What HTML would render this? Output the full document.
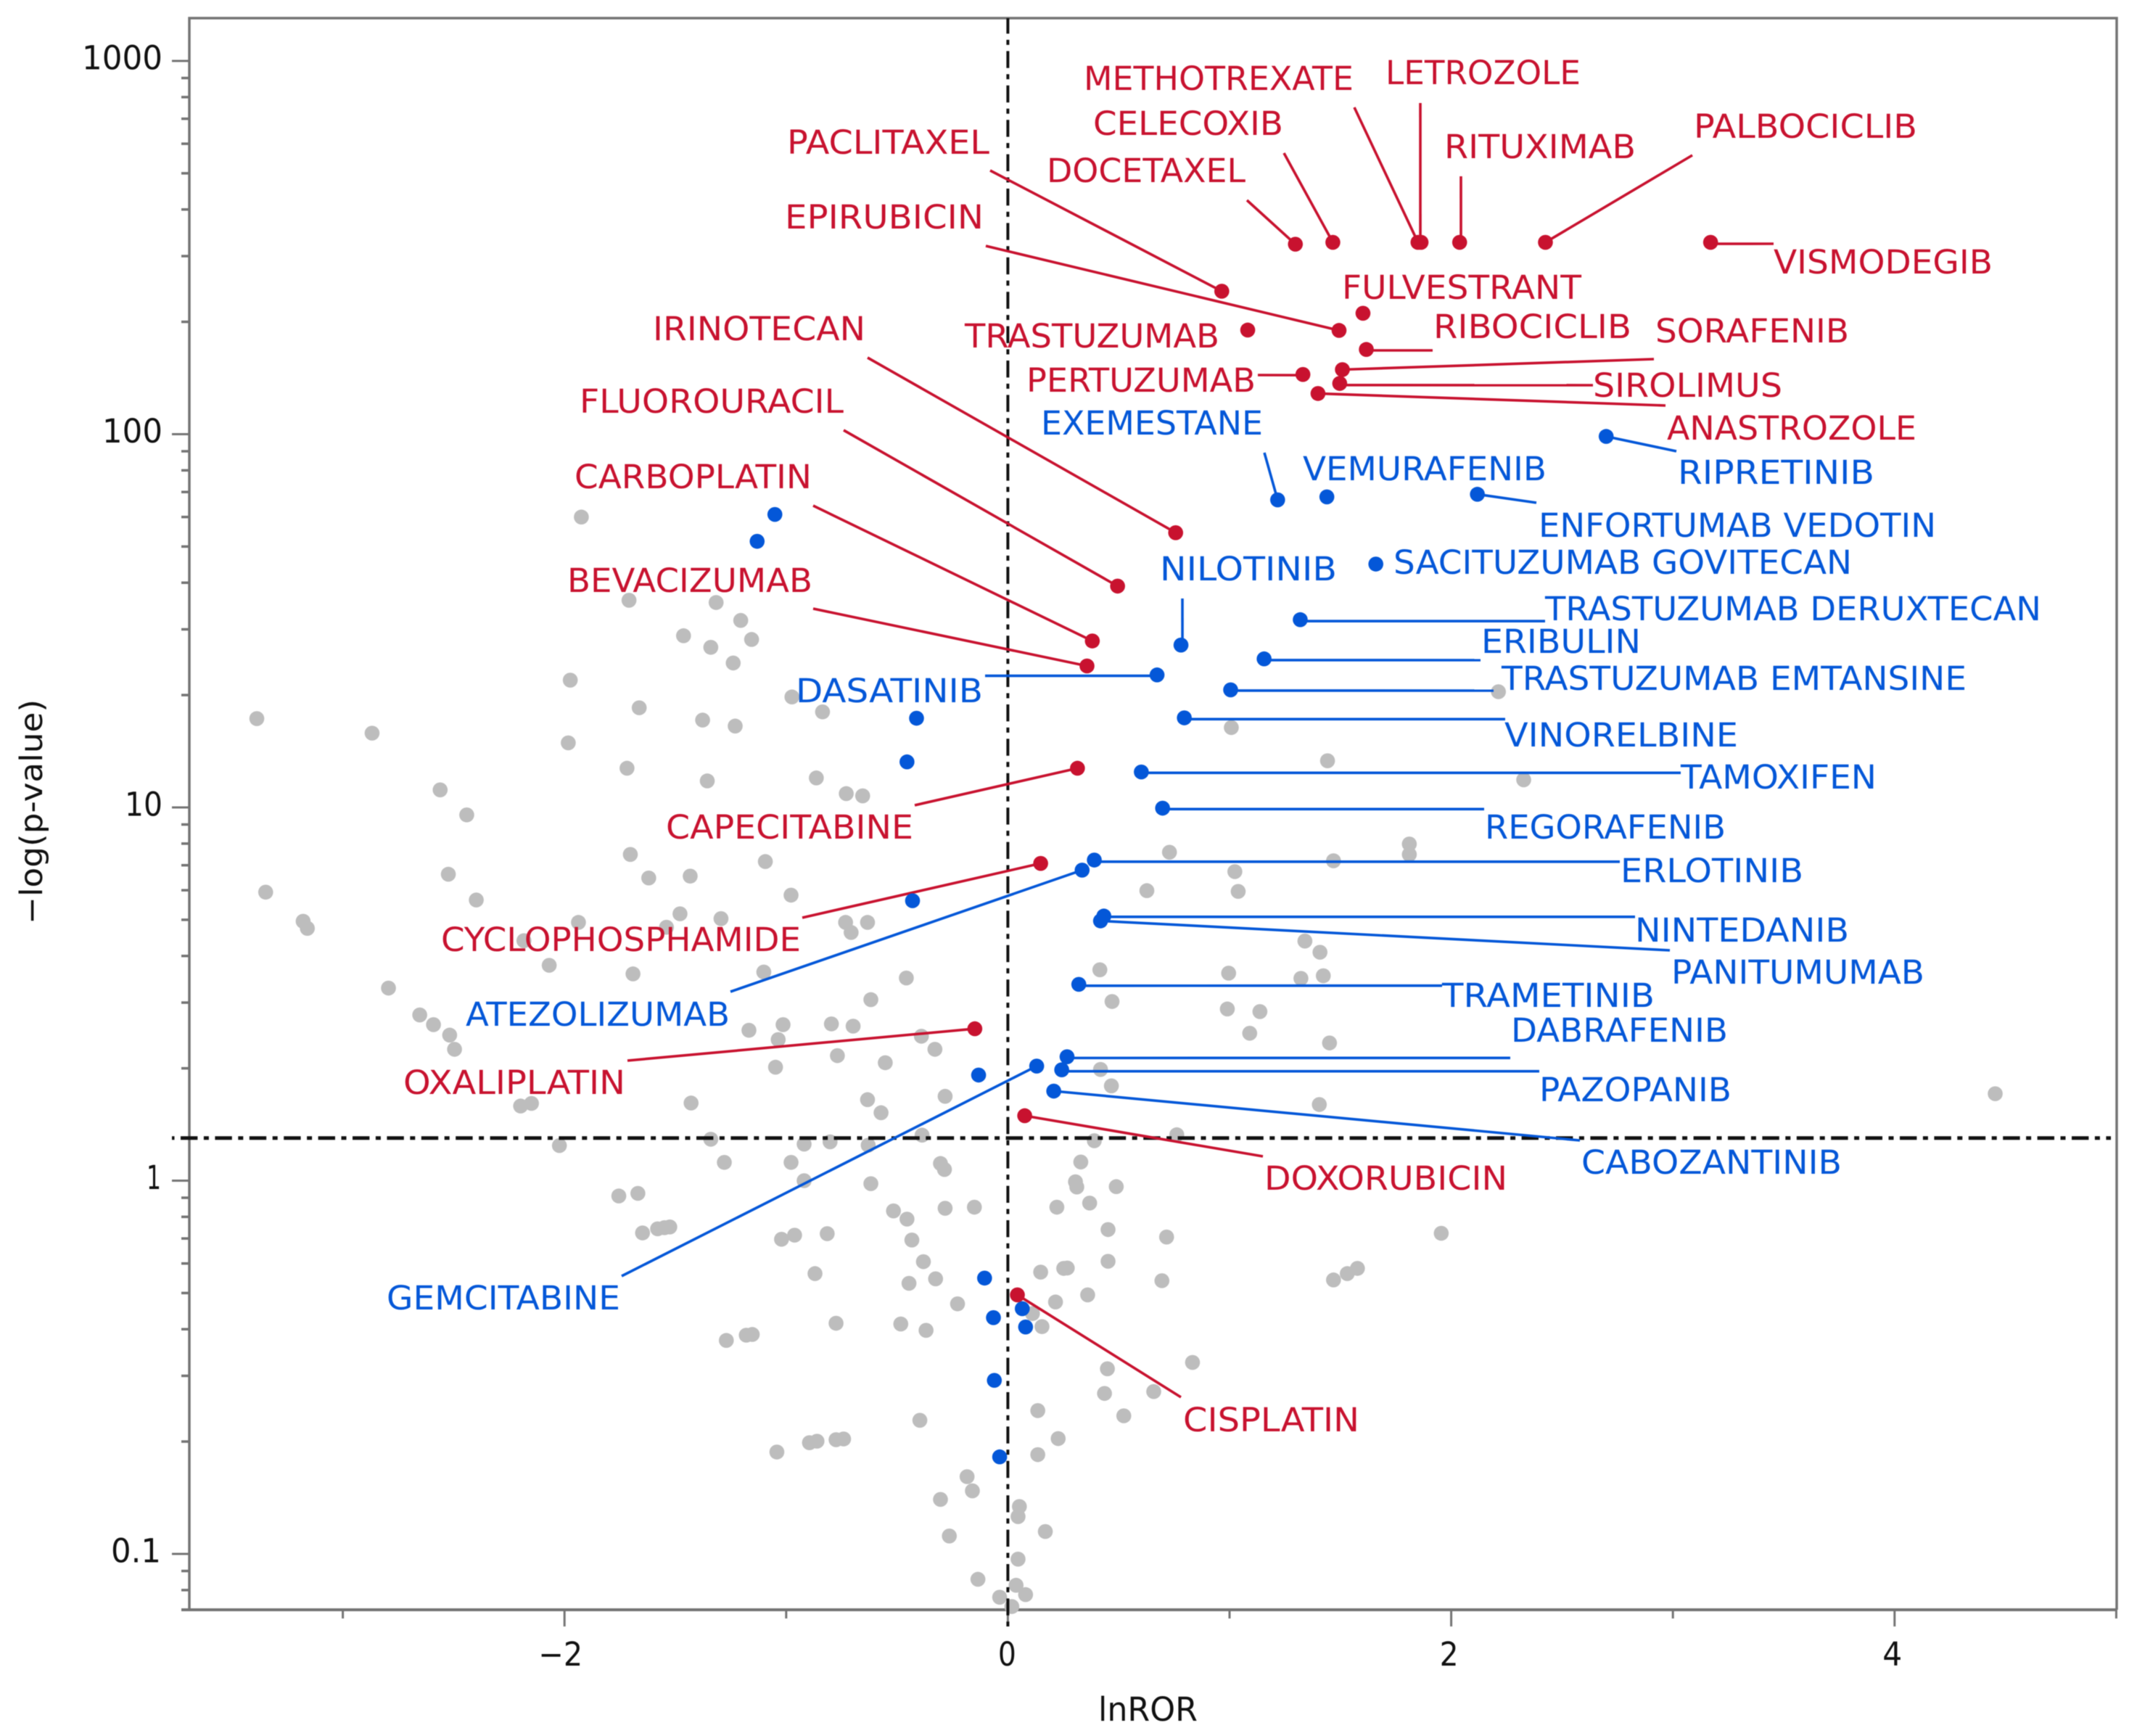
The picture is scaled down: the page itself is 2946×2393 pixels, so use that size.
<!DOCTYPE html>
<html lang="en">
<head>
<meta charset="utf-8">
<title>Volcano plot of lnROR against -log(p-value)</title>
<style>
html,body{margin:0;padding:0;background:#fff;}
svg{display:block;filter:blur(0.6px);}
text{font-family:"DejaVu Sans","Liberation Sans",sans-serif;font-size:45px;}
</style>
</head>
<body>
<svg id="chart" xmlns="http://www.w3.org/2000/svg" width="2946" height="2393" viewBox="0 0 2946 2393">
<rect x="0" y="0" width="2946" height="2393" fill="#ffffff"/>
</svg>
<script>
// ---------- chart data (x = lnROR, logP = log10 of the -log(p-value) reading) ----------
const xTickValues = [-2, 0, 2, 4];
const xTickLabels = ['\u22122', '0', '2', '4'];
const xMinorValues = [-3, -1, 1, 3, 5];
const yTickValues = [1000, 100, 10, 1, 0.1];
const yTickLabels = ['1000', '100', '10', '1', '0.1'];
const yMinorValues = [900,800,700,600,500,400,300,200,90,80,70,60,50,40,30,20,9,8,7,6,5,4,3,2,0.9,0.8,0.7,0.6,0.5,0.4,0.3,0.2,0.09,0.08];
const significanceThreshold = 1.301;
const referenceLnROR = 0;

const redNames = ['DOCETAXEL','CELECOXIB','METHOTREXATE','LETROZOLE','RITUXIMAB','PALBOCICLIB','VISMODEGIB','PACLITAXEL','FULVESTRANT','EPIRUBICIN','TRASTUZUMAB','RIBOCICLIB','SORAFENIB','SIROLIMUS','PERTUZUMAB','ANASTROZOLE','IRINOTECAN','FLUOROURACIL','CARBOPLATIN','BEVACIZUMAB','CAPECITABINE','CYCLOPHOSPHAMIDE','OXALIPLATIN','DOXORUBICIN','CISPLATIN'];
const redX = [1.297,1.466,1.850,1.864,2.038,2.425,3.170,0.965,1.602,1.494,1.082,1.617,1.509,1.497,1.331,1.399,0.757,0.495,0.381,0.357,0.314,0.148,-0.149,0.076,0.043];
const redLogP = [2.509,2.514,2.514,2.514,2.514,2.514,2.514,2.383,2.324,2.278,2.279,2.227,2.173,2.136,2.160,2.109,1.736,1.593,1.446,1.379,1.105,0.850,0.407,0.174,-0.306];

const blueNames = ['RIPRETINIB','EXEMESTANE','VEMURAFENIB','ENFORTUMAB VEDOTIN','SACITUZUMAB GOVITECAN','TRASTUZUMAB DERUXTECAN','NILOTINIB','ERIBULIN','DASATINIB','TRASTUZUMAB EMTANSINE','VINORELBINE','TAMOXIFEN','REGORAFENIB','ERLOTINIB','ATEZOLIZUMAB','NINTEDANIB','PANITUMUMAB','TRAMETINIB','DABRAFENIB','PAZOPANIB','CABOZANTINIB','GEMCITABINE'];
const blueX = [2.699,1.217,1.439,2.118,1.660,1.319,0.781,1.156,0.673,1.005,0.796,0.602,0.698,0.390,0.335,0.433,0.418,0.320,0.267,0.243,0.207,0.130];
const blueLogP = [1.994,1.824,1.832,1.839,1.652,1.503,1.435,1.398,1.355,1.315,1.240,1.095,0.998,0.859,0.832,0.709,0.696,0.526,0.332,0.297,0.240,0.307];

const blueOtherX = [-1.051,-1.131,-0.412,-0.455,-0.430,-0.132,-0.105,-0.065,0.065,0.080,-0.061,-0.037];
const blueOtherLogP = [1.785,1.713,1.239,1.122,0.750,0.283,-0.261,-0.367,-0.343,-0.392,-0.535,-0.740];

const grayX = [-1.924,-1.709,-1.316,-1.205,-1.463,-1.340,-1.156,-1.239,-1.974,-1.663,-0.974,-0.836,-1.377,-1.230,-3.388,-2.868,-1.983,-1.718,-1.356,-0.864,-0.729,-0.655,-2.561,-2.441,-1.703,-1.094,-2.524,-1.620,-1.433,-3.348,-0.978,-2.398,-1.479,-1.937,-1.294,-3.179,-3.160,-1.540,-0.732,-0.633,-0.707,-2.183,-2.069,-1.691,-1.101,-0.458,-2.794,-0.618,-2.653,-2.591,-2.518,-2.496,-1.168,-1.014,-0.796,-0.698,-1.036,-0.390,-0.329,-0.769,-1.048,-0.553,-0.283,-0.633,-0.572,-1.429,-2.198,-2.149,-1.340,-0.387,-2.023,-0.919,-0.802,-0.630,-1.279,-0.978,-0.304,-0.286,-0.919,-0.618,-1.755,-1.669,-0.516,-0.455,-0.283,-0.151,0.221,-1.648,-1.580,-1.549,-1.525,-1.021,-0.962,-0.815,-0.433,-0.381,-0.870,0.148,0.252,-0.446,-0.326,-0.227,0.215,0.111,0.154,-0.775,-1.270,-1.180,-1.153,-0.483,-0.369,0.135,-0.397,0.227,-1.042,-0.895,-0.861,-0.775,-0.741,0.135,-0.184,-0.160,-0.304,0.052,0.046,0.169,-0.264,0.046,-0.135,0.037,0.080,-0.037,0.018,2.213,1.008,1.442,2.327,0.729,1.811,1.811,1.469,1.024,0.627,1.039,1.340,1.408,0.415,0.996,1.322,1.423,0.470,0.990,1.137,1.091,1.451,0.418,0.467,1.405,4.454,0.762,0.390,0.329,0.311,0.305,0.489,0.369,0.452,0.716,1.955,1.469,1.531,1.577,0.452,0.695,0.360,0.268,0.833,0.449,0.436,0.658,0.523];
const grayLogP = [1.778,1.555,1.549,1.501,1.460,1.429,1.450,1.387,1.341,1.267,1.296,1.256,1.234,1.218,1.238,1.199,1.173,1.105,1.071,1.079,1.037,1.031,1.047,0.980,0.874,0.855,0.821,0.811,0.816,0.773,0.765,0.752,0.715,0.692,0.702,0.695,0.676,0.679,0.692,0.692,0.665,0.643,0.577,0.554,0.559,0.543,0.516,0.485,0.444,0.418,0.390,0.352,0.403,0.418,0.420,0.414,0.378,0.387,0.352,0.335,0.304,0.316,0.226,0.217,0.182,0.208,0.200,0.207,0.111,0.122,0.094,0.098,0.104,0.095,0.049,0.049,0.046,0.030,0.000,-0.008,-0.041,-0.034,-0.081,-0.103,-0.074,-0.071,-0.071,-0.140,-0.129,-0.126,-0.124,-0.157,-0.146,-0.142,-0.159,-0.217,-0.249,-0.245,-0.235,-0.275,-0.263,-0.330,-0.325,-0.356,-0.391,-0.382,-0.428,-0.414,-0.412,-0.384,-0.401,-0.616,-0.642,-0.691,-0.727,-0.702,-0.698,-0.694,-0.692,-0.734,-0.793,-0.831,-0.854,-0.873,-0.900,-0.940,-0.952,-1.014,-1.068,-1.084,-1.109,-1.116,-1.141,1.310,1.214,1.125,1.074,0.880,0.902,0.874,0.857,0.828,0.777,0.775,0.642,0.612,0.565,0.556,0.542,0.549,0.480,0.460,0.453,0.395,0.369,0.298,0.254,0.204,0.233,0.123,0.107,0.050,-0.017,-0.003,-0.016,-0.060,-0.131,-0.151,-0.141,-0.266,-0.249,-0.235,-0.216,-0.268,-0.306,-0.234,-0.487,-0.504,-0.570,-0.565,-0.630];

// ---------- annotation layout: [text left, text right, baseline, leader end x, leader end y, leader start dx, leader start dy] ----------
const labelLayout = {
  'PACLITAXEL':[1085,1364,212,1365,235],
  'EPIRUBICIN':[1082,1356,315,1359,339],
  'IRINOTECAN':[900,1193,469,1196,493],
  'FLUOROURACIL':[799,1163,569,1163,593],
  'CARBOPLATIN':[792,1119,673,1121,697],
  'BEVACIZUMAB':[782,1120,816,1121,839],
  'TRASTUZUMAB':[1330,1681,479],
  'PERTUZUMAB':[1415,1731,540,1734,517,0,1],
  'METHOTREXATE':[1494,1866,124,1867,148],
  'LETROZOLE':[1910,2179,116,1958,142,-1,0],
  'CELECOXIB':[1507,1769,186,1770,211],
  'RITUXIMAB':[1991,2255,218,2014,243,1.8,0],
  'DOCETAXEL':[1443,1717,251,1719,276],
  'PALBOCICLIB':[2335,2643,190,2333,214],
  'VISMODEGIB':[2445,2747,377,2445,336,0,2],
  'FULVESTRANT':[1850,2180,412],
  'RIBOCICLIB':[1976,2249,466,1975,483,0,1.3],
  'SORAFENIB':[2282,2549,472,2280,495],
  'SIROLIMUS':[2196,2457,547,2196,531,0,2.3],
  'ANASTROZOLE':[2298,2642,606,2296,559],
  'CAPECITABINE':[918,1259,1156,1261,1110],
  'CYCLOPHOSPHAMIDE':[608,1104,1311,1106,1265],
  'OXALIPLATIN':[556,862,1508,865,1462],
  'DOXORUBICIN':[1743,2078,1640,1741,1594],
  'CISPLATIN':[1631,1874,1973,1628,1926],
  'EXEMESTANE':[1435,1741,599,1743,624],
  'VEMURAFENIB':[1796,2132,662],
  'RIPRETINIB':[2313,2584,667,2311,622],
  'ENFORTUMAB VEDOTIN':[2121,2669,740,2118,693],
  'SACITUZUMAB GOVITECAN':[1921,2553,791],
  'NILOTINIB':[1599,1843,800,1630,825,2,0],
  'TRASTUZUMAB DERUXTECAN':[2130,2814,855,2130,856.2,0,2],
  'ERIBULIN':[2042,2262,900,2041,910,0,1.7],
  'TRASTUZUMAB EMTANSINE':[2070,2711,951,2059,952,0,1],
  'DASATINIB':[1097,1355,968,1358,931.6,0,1.2],
  'VINORELBINE':[2074,2396,1029,2075,991.3,0,1.8],
  'TAMOXIFEN':[2317,2587,1087,2317,1065.3,0,1.2],
  'REGORAFENIB':[2047,2379,1156,2046,1115.3,0,1.3],
  'ERLOTINIB':[2234,2486,1216,2233,1187.8,0,2.3],
  'NINTEDANIB':[2254,2549,1298,2254,1263.8,0,1.1],
  'PANITUMUMAB':[2304,2653,1356,2302,1310],
  'TRAMETINIB':[1988,2281,1388,1988,1358.7,0,1.9],
  'ATEZOLIZUMAB':[642,1006,1414,1007,1367],
  'DABRAFENIB':[2083,2382,1436,2082,1458.3,0,1.7],
  'PAZOPANIB':[2122,2387,1518,2122,1476.7,0,2],
  'CABOZANTINIB':[2180,2539,1618,2178,1572],
  'GEMCITABINE':[533,855,1805,857,1759]
};

// ---------- scales ----------
const plot = {left:261, right:2918, top:25, bottom:2219};
function xScale(v){ return 1389.4 + 305.6 * v; }
function yScaleLog(l){ return 84 + (3 - l) * 514.5; }
function yScale(v){ return yScaleLog(Math.log10(v)); }

const RED = '#c8122f', BLUE = '#0457d8', GRAY = '#bdbdbd', AXIS = '#747474', INK = '#111111';
const POINT_R = 10.3;
const svg = document.getElementById('chart');
const NS = 'http://www.w3.org/2000/svg';
function el(tag, attrs, parent){
  const n = document.createElementNS(NS, tag);
  for (const k in attrs) n.setAttribute(k, attrs[k]);
  (parent || svg).appendChild(n);
  return n;
}
function kebab(s){ return s.toLowerCase().replace(/\s+/g, '-'); }

// ---------- frame ----------
const frame = el('path', {d:`M${plot.left} ${plot.bottom}V${plot.top}H${plot.right}V${plot.bottom}`, fill:'none', stroke:AXIS, 'stroke-width':3.5});


const xAxis = el('line', {x1:250, x2:plot.right, y1:plot.bottom, y2:plot.bottom, stroke:AXIS, 'stroke-width':4});



// ---------- y ticks ----------
const yLabelWidths = [111, 83, 52, 20, 69];
const yLabelRights = [224, 224, 224, 222, 222];
yTickValues.forEach(function(v, i){
  const y = yScale(v);
  const t = el('line', {x1:237, x2:plot.left, y1:y, y2:y, stroke:AXIS, 'stroke-width':3});
  
  
  const lab = el('text', {x:yLabelRights[i] - yLabelWidths[i], y:y + 11.5, fill:INK, textLength:yLabelWidths[i], lengthAdjust:'spacingAndGlyphs'});
  lab.textContent = yTickLabels[i];
  
  
});
yMinorValues.forEach(function(v){
  const y = yScale(v);
  const t = el('line', {x1:250, x2:plot.left, y1:y, y2:y, stroke:AXIS, 'stroke-width':3.5});
  
  
});

// ---------- x ticks ----------
const xLabelWidths = [61, 25, 26, 27];
const xLabelShift = [-5.5, -1, -3, -3];
xTickValues.forEach(function(v, i){
  const x = xScale(v);
  const t = el('line', {x1:x, x2:x, y1:plot.bottom, y2:2242, stroke:AXIS, 'stroke-width':3});
  
  
  const lab = el('text', {x:x + xLabelShift[i] - xLabelWidths[i] / 2, y:2296, fill:INK, textLength:xLabelWidths[i], lengthAdjust:'spacingAndGlyphs'});
  lab.textContent = xTickLabels[i];
  
  
});
xMinorValues.forEach(function(v){
  const x = xScale(v);
  const t = el('line', {x1:x, x2:x, y1:plot.bottom, y2:2231, stroke:AXIS, 'stroke-width':3});
  
  
});

// ---------- axis titles ----------
const xTitle = el('text', {x:1514, y:2372, fill:INK, textLength:137, lengthAdjust:'spacingAndGlyphs'});
xTitle.textContent = 'lnROR';


const yTitle = el('text', {transform:'translate(58 1274) rotate(-90)', x:0, y:0, fill:INK, textLength:310, lengthAdjust:'spacingAndGlyphs', style:'font-size:43px'});
yTitle.textContent = '\u2212log(p-value)';



// ---------- gray points ----------
grayX.forEach(function(x, i){
  const c = el('circle', {cx:xScale(x), cy:yScaleLog(grayLogP[i]), r:POINT_R, fill:GRAY});
  
  
});

// ---------- reference lines ----------
const vRef = el('line', {x1:xScale(referenceLnROR), x2:xScale(referenceLnROR), y1:plot.top, y2:2242, stroke:INK, 'stroke-width':4, 'stroke-dasharray':'23.4 8.5 7 8.5', 'stroke-dashoffset':2});


const hRef = el('line', {x1:237, x2:2910, y1:yScale(significanceThreshold), y2:yScale(significanceThreshold), stroke:INK, 'stroke-width':5, 'stroke-dasharray':'23.4 8.5 7 8.5', 'stroke-dashoffset':35.4});



// ---------- named series ----------
function drawLeaders(names, xs, ys, color){
  names.forEach(function(n, i){
    const p = labelLayout[n];
    if (p.length < 5) return;
    const l = el('line', {x1:xScale(xs[i]) + (p[5] || 0), y1:yScaleLog(ys[i]) + (p[6] || 0), x2:p[3], y2:p[4], stroke:color, 'stroke-width':3.6});
    
    
  });
}
function drawPoints(names, xs, ys, color){
  names.forEach(function(n, i){
    const c = el('circle', {cx:xScale(xs[i]), cy:yScaleLog(ys[i]), r:POINT_R, fill:color});
    
    
  });
}
function drawLabels(names, color){
  names.forEach(function(n){
    const p = labelLayout[n];
    const t = el('text', {x:p[0], y:p[2], fill:color, textLength:p[1] - p[0], lengthAdjust:'spacingAndGlyphs'});
    t.textContent = n;
    
    
  });
}
drawLeaders(blueNames, blueX, blueLogP, BLUE);
drawLeaders(redNames, redX, redLogP, RED);
blueOtherX.forEach(function(x, i){
  const c = el('circle', {cx:xScale(x), cy:yScaleLog(blueOtherLogP[i]), r:POINT_R, fill:BLUE});
  
  
});
drawPoints(blueNames, blueX, blueLogP, BLUE);
drawPoints(redNames, redX, redLogP, RED);
drawLabels(blueNames, BLUE);
drawLabels(redNames, RED);
</script>
</body>
</html>
